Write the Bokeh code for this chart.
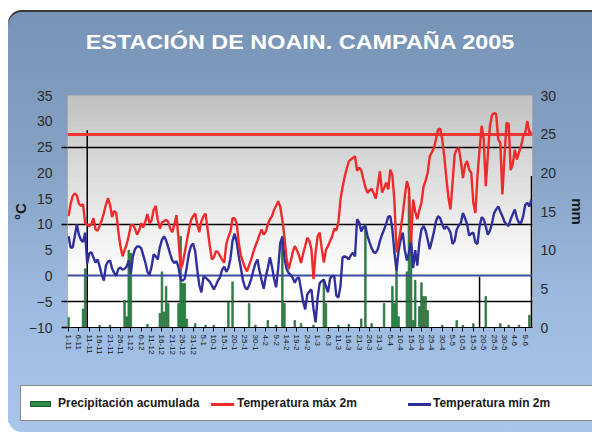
from bokeh.plotting import figure
from bokeh.layouts import column
from bokeh.models import Range1d, LinearAxis, FixedTicker, Div
from bokeh.embed import file_html
from bokeh.resources import INLINE

titulo = "ESTACIÓN DE NOAIN. CAMPAÑA 2005"

etiquetas_fecha = ["1-11", "6-11", "11-11", "16-11", "21-11", "26-11", "1-12", "6-12",
                   "11-12", "16-12", "21-12", "26-12", "31-12", "5-1", "10-1", "15-1",
                   "20-1", "25-1", "30-1", "4-2", "9-2", "14-2", "19-2", "24-2", "1-3",
                   "6-3", "11-3", "16-3", "21-3", "26-3", "31-3", "5-4", "10-4", "15-4",
                   "20-4", "25-4", "30-4", "5-5", "10-5", "15-5", "20-5", "25-5", "30-5",
                   "4-6", "9-6"]
paso_etiquetas = 5  # days between date labels

# Daily maximum temperature at 2 m (°C), 1-11-2004 .. 12-6-2005
t_max = [11.6, 14.0, 15.5, 16.0, 15.6, 14.0, 13.6, 13.9, 10.3, 9.9,
         9.7, 10.0, 11.2, 9.0, 8.8, 9.7, 10.8, 12.2, 13.8, 15.1,
         13.8, 11.4, 12.6, 12.2, 8.6, 5.8, 3.8, 5.0, 6.1, 7.8,
         9.8, 9.9, 9.2, 8.0, 8.8, 10.2, 9.4, 10.6, 12.0, 10.2,
         10.8, 12.8, 13.6, 10.8, 9.2, 10.4, 10.6, 10.9, 10.5, 9.2,
         8.5, 10.0, 11.8, 7.0, 1.4, 2.4, 4.6, 6.8, 9.0, 10.8,
         11.6, 12.1, 10.0, 8.5, 10.6, 11.6, 12.1, 9.0, 6.0, 3.2,
         3.6, 4.8, 4.6, 3.9, 3.1, 2.6, 6.2, 7.6, 8.6, 11.2,
         11.2, 10.2, 6.4, 4.0, 2.8, 1.6, 0.9, 2.1, 3.2, 4.6,
         5.8, 6.8, 8.0, 9.0, 8.0, 8.6, 10.0, 11.0, 11.6, 12.8,
         13.6, 14.5, 13.4, 10.8, 7.6, 3.5, 1.3, 2.8, 4.6, 5.8,
         5.0, 4.0, 2.5, 4.3, 5.8, 7.4, 6.8, 5.2, -0.6, 4.5,
         7.7, 8.4, 5.2, 2.6, 5.1, 5.8, 6.8, 7.7, 9.2, 8.8,
         10.4, 14.8, 17.2, 19.2, 20.8, 22.2, 22.6, 22.9, 23.2, 20.4,
         21.0, 20.5, 18.8, 17.2, 16.1, 16.6, 16.9, 16.0, 15.0, 17.5,
         20.3, 16.2, 17.0, 18.1, 16.8, 20.6, 19.5, 14.5, 4.6, 6.5,
         9.0, 12.0, 15.5, 18.4, 16.8, 6.5, 14.8, 12.5, 11.0, 12.8,
         14.2, 17.3, 18.5, 20.0, 23.2, 24.0, 24.8, 26.5, 28.4, 28.6,
         26.5, 23.2, 19.0, 15.2, 12.9, 18.1, 23.5, 24.6, 24.8, 22.3,
         19.0, 21.5, 22.3, 20.6, 20.0, 14.2, 12.2, 19.5, 24.5, 29.1,
         26.5, 17.4, 23.5, 29.1, 31.2, 31.6, 31.4, 26.5, 25.8, 15.8,
         23.2, 29.7, 29.5, 20.5, 21.8, 24.5, 22.6, 24.0, 25.2, 27.1,
         27.8, 30.0, 27.8, 28.0]

# Daily minimum temperature at 2 m (°C)
t_min = [7.7, 5.5, 5.5, 7.7, 10.0, 8.0, 7.0, 6.6, 8.4, 2.4,
         4.4, 4.6, 3.6, 2.6, 3.2, 1.8, 0.2, -0.9, 2.0, 2.8,
         3.0, 1.4, 0.6, 0.0, 1.4, 1.6, 1.2, 1.4, 1.8, 3.0,
         0.5, 3.8, 5.2, 5.7, 5.7, 5.4, 4.0, 2.6, 0.8, 0.2,
         1.8, 4.2, 3.8, 3.2, 5.6, 7.0, 7.7, 6.9, 5.6, 4.2,
         3.0, 2.5, 2.9, 1.6, -0.7, -0.9, -0.5, 1.8, 4.4, 5.8,
         6.3, 4.8, 1.2, -1.8, -3.2, -0.2, -0.3, -0.7, -1.1, -1.8,
         -2.6, -1.8, -0.9, -0.2, 1.2, 1.8, 0.8, 1.5, 3.4, 6.8,
         8.2, 6.6, 3.8, 1.6, -0.8, -2.2, -2.6, -1.8, -0.6, 1.0,
         2.4, 3.2, 1.0, -0.8, -2.5, -0.2, 1.6, 3.6, 1.8, -0.5,
         -2.2, 1.5, 6.4, 7.6, 3.5, 1.4, 0.6, 0.2, -0.4, -1.3,
         -0.5, -0.3, -2.6, -5.0, -6.5, -3.6, -3.0, -2.6, -6.4, -9.0,
         -4.2, -1.4, -1.0, -0.7, -2.0, -3.2, -0.5, 0.0, 0.0, -3.8,
         -4.2, -2.0, 3.6, 3.8, 3.6, 3.2, 4.0, 4.5, 3.8, 11.0,
         10.4, 8.6, 9.5, 9.6, 7.8, 6.5, 5.4, 4.6, 4.5, 5.2,
         6.8, 8.0, 9.0, 10.1, 11.5, 11.6, 9.0, 4.5, 1.0, 5.0,
         7.0, 8.4, 5.0, 3.0, 4.5, 7.0, 1.5, 5.0, 2.0, 6.5,
         9.0, 9.7, 8.8, 7.0, 5.2, 6.8, 8.5, 10.6, 11.6, 11.2,
         10.0, 9.1, 9.6, 9.2, 8.4, 6.2, 6.8, 9.0, 9.8, 10.3,
         12.2, 11.2, 10.0, 7.8, 8.2, 8.4, 6.5, 6.2, 9.6, 11.4,
         11.0, 9.6, 8.0, 8.8, 10.2, 12.2, 12.9, 13.5, 12.5, 11.6,
         10.5, 10.0, 9.7, 11.0, 12.0, 12.9, 11.2, 10.3, 10.3, 11.6,
         13.8, 14.2, 13.5, 14.8]

# Accumulated precipitation (mm), days with rain (day index from 1-11)
precip_dias = [0, 7, 8, 15, 20, 27, 28, 29, 30, 38, 44, 45, 46, 47, 48, 53, 54, 55, 56, 57,
               61, 66, 70, 77, 79, 87, 90, 96, 100, 103, 104, 109, 112, 118, 123, 124, 130,
               135, 141, 143, 146, 152, 156, 157, 158, 159, 163, 164, 165, 166, 167, 169,
               170, 171, 172, 173, 180, 187, 190, 195, 201, 208, 212, 217, 222]
precip_mm = [1.3, 2.4, 7.6, 0.3, 0.3, 3.5, 1.4, 10.0, 9.6, 0.4, 1.8, 7.2, 2.0, 5.3, 3.1, 3.1,
             11.8, 5.7, 5.7, 1.1, 0.5, 0.3, 0.3, 3.3, 5.9, 3.1, 0.3, 0.9, 0.3, 11.8, 3.1,
             0.9, 0.5, 0.3, 6.1, 3.1, 0.3, 0.4, 1.1, 13.3, 0.5, 3.1, 5.3, 3.1, 7.4, 1.4, 7.2,
             17.0, 10.5, 0.9, 6.1, 2.7, 5.8, 4.0, 4.0, 2.2, 0.3, 0.9, 0.3, 0.5, 4.0, 0.5,
             0.3, 0.3, 1.6]

# Thin black vertical marks (day index, height in mm)
marcas_dia = [9, 198, 223]
marcas_mm = [25.5, 6.6, 19.6]

umbral_max = 27.4          # red reference line (°C)
umbral_min = 0             # blue reference line (°C)
lineas_guia = [-5, 10, 25]  # black guide lines (°C)

ticks_temp = [-10, -5, 0, 5, 10, 15, 20, 25, 30, 35]
ticks_mm = [0, 5, 10, 15, 20, 25, 30]

nombres_series = ["Precipitación acumulada", "Temperatura máx 2m", "Temperatura mín 2m"]

dias = list(range(len(t_max)))
x_lo, x_hi = -0.5, len(dias) - 0.5
y_lo, y_hi = ticks_temp[0], ticks_temp[-1]

FONT = "Liberation Sans"
C_BAR, C_BAR_LINE = "#2e8b47", "#1d5a2d"
C_MAX, C_MIN = "#ee2a2a", "#30309c"

W = 584
H_TITLE = 60
H_MAIN = 305
H_LEG = 57

p = figure(width=W, height=H_MAIN, output_backend="svg", toolbar_location=None,
           x_range=Range1d(x_lo, x_hi), y_range=Range1d(y_lo, y_hi),
           min_border_left=56, min_border_right=60, min_border_top=25, min_border_bottom=48)
p.extra_y_ranges = {"mm": Range1d(ticks_mm[0], ticks_mm[-1])}

p.border_fill_color = None
p.background_fill_color = "white"
p.outline_line_color = "#9a9a9a"

p.xgrid.visible = False
p.ygrid.visible = False

# plot-area grey gradient
n_bandas = 45
bordes = [y_lo + (y_hi - y_lo) * k / n_bandas for k in range(n_bandas + 1)]
colores = []
for k in range(n_bandas):
    v = (bordes[k] + bordes[k + 1]) / 2
    t = max(0.0, min(1.0, v / y_hi))
    g = int(round(255 - 62 * t))
    colores.append("#%02x%02x%02x" % (g, g, g))
p.quad(left=x_lo, right=x_hi, bottom=bordes[:-1], top=[b + 0.15 for b in bordes[1:]],
       fill_color=colores, line_color=None)

p.hspan(y=lineas_guia, line_color="black", line_width=1.3)

p.vbar(x=precip_dias, top=precip_mm, width=0.8, y_range_name="mm",
       fill_color=C_BAR, line_color=C_BAR_LINE, line_width=0.6)
p.segment(x0=marcas_dia, y0=0, x1=marcas_dia, y1=marcas_mm, y_range_name="mm",
          line_color="black", line_width=1.5)

p.hspan(y=[umbral_max], line_color="#f03535", line_width=3)
p.hspan(y=[umbral_min], line_color="#3a4da2", line_width=2.2)

p.line(dias, t_min, line_color=C_MIN, line_width=2.4)
p.line(dias, t_max, line_color=C_MAX, line_width=2.4)

# x axis
xa = p.xaxis[0]
xa.ticker = FixedTicker(ticks=[i * paso_etiquetas for i in range(len(etiquetas_fecha))])
xa.major_label_overrides = {i * paso_etiquetas: s for i, s in enumerate(etiquetas_fecha)}
xa.major_label_orientation = "vertical"
xa.major_label_text_font = FONT
xa.major_label_text_font_size = "8px"
xa.major_label_text_color = "#111111"
xa.major_label_standoff = 3
xa.axis_line_color = "black"
xa.axis_line_width = 1.2
xa.major_tick_line_color = "black"
xa.major_tick_out = 4
xa.major_tick_in = 0
xa.minor_tick_line_color = None

# left axis
ya = p.yaxis[0]
ya.ticker = FixedTicker(ticks=ticks_temp, minor_ticks=lineas_guia + [y_lo])
ya.axis_label = "°C"
ya.axis_label_text_font = FONT
ya.axis_label_text_font_size = "15px"
ya.axis_label_text_font_style = "bold"
ya.axis_label_text_color = "#1a1a1a"
ya.axis_label_standoff = -3
ya.major_label_text_font = FONT
ya.major_label_text_font_size = "14px"
ya.major_label_text_color = "#2a2a2a"
ya.major_label_standoff = 9
ya.major_tick_out = 0
ya.major_tick_in = 0
ya.major_tick_line_color = None
ya.minor_tick_line_color = "black"
ya.minor_tick_line_width = 1.3
ya.minor_tick_out = 6
ya.minor_tick_in = 0
ya.axis_line_color = None

# right axis
ra = LinearAxis(y_range_name="mm", ticker=FixedTicker(ticks=ticks_mm), axis_label="mm")
ra.axis_label_text_font = FONT
ra.axis_label_text_font_size = "15px"
ra.axis_label_text_font_style = "bold"
ra.axis_label_text_color = "#1a1a1a"
ra.axis_label_standoff = 10
ra.major_label_text_font = FONT
ra.major_label_text_font_size = "14px"
ra.major_label_text_color = "#2a2a2a"
ra.major_label_standoff = 8
ra.major_tick_out = 0
ra.major_tick_in = 0
ra.major_tick_line_color = None
ra.minor_tick_line_color = None
ra.axis_line_color = None
p.add_layout(ra, "right")

# title strip
titulo_html = (
    '<div style="position:relative;width:%dpx;height:%dpx;">'
    '<div style="position:absolute;left:0;top:20px;width:%dpx;text-align:center;'
    "font-family:'%s',sans-serif;font-weight:bold;font-size:20px;line-height:24px;"
    'color:white;transform:scaleX(1.17);transform-origin:50%% 50%%;">%s</div></div>'
    % (W, H_TITLE, W, FONT, titulo)
)
div_titulo = Div(text=titulo_html, width=W, height=H_TITLE, margin=0)

# legend strip
def item_html(left, kind, color, label, label_left):
    if kind == "box":
        g = ('<div style="position:absolute;left:%dpx;top:15px;width:21px;height:6px;'
             'background:%s;border:1px solid %s;"></div>' % (left, color, C_BAR_LINE))
    else:
        g = ('<div style="position:absolute;left:%dpx;top:17px;width:23px;height:2.5px;'
             'background:%s;"></div>' % (left, color))
    t = ('<div style="position:absolute;left:%dpx;top:10px;white-space:nowrap;'
         'line-height:15px;">%s</div>' % (label_left, label))
    return g + t

leyenda_html = (
    '<div style="position:relative;width:%dpx;height:%dpx;">'
    '<div style="position:absolute;left:12px;top:10px;width:%dpx;height:36px;'
    'box-sizing:border-box;background:white;border:1px solid #8a8a8a;border-right:none;'
    "font-family:'%s',sans-serif;font-weight:bold;font-size:12px;color:#1a1a1a;\">"
    % (W, H_LEG, W - 12, FONT)
    + item_html(9, "box", C_BAR, nombres_series[0], 37)
    + item_html(190, "line", C_MAX, nombres_series[1], 216)
    + item_html(387, "line", C_MIN, nombres_series[2], 412)
    + '</div></div>'
)
div_leyenda = Div(text=leyenda_html, width=W, height=H_LEG, margin=0)

lay = column(div_titulo, p, div_leyenda, spacing=0)
lay.styles = {
    "margin-left": "8px",
    "margin-top": "10px",
    "background": "linear-gradient(180deg, #7793b6 0%, #85a2c5 35%, #9dbbe0 70%, #a8c6ea 100%)",
    "border-radius": "14px 0 0 14px",
    "box-shadow": "inset 0 2px 0 #3a3a3a",
}

open("out.html", "w").write(file_html(lay, INLINE))
